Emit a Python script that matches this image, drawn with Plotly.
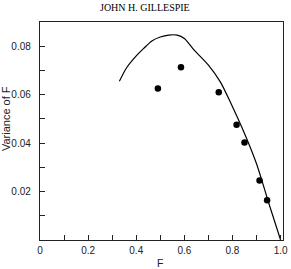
import plotly.graph_objects as go

# Theoretical curve
curve_f = [0.33, 0.36, 0.40, 0.43, 0.465, 0.50, 0.535, 0.57, 0.60, 0.64, 0.70, 0.75, 0.80, 0.85, 0.90, 0.95, 1.0]
curve_var = [0.0655, 0.0711, 0.0760, 0.0790, 0.0822, 0.0838, 0.0846, 0.0846, 0.0832, 0.0785, 0.0722, 0.0652, 0.0550, 0.0440, 0.0315, 0.0155, 0.0]

# Observed points
pts_f = [0.490, 0.586, 0.743, 0.817, 0.850, 0.9125, 0.944]
pts_var = [0.0625, 0.0713, 0.0610, 0.0476, 0.0403, 0.0246, 0.0164]

x_tickvals = [0, 0.2, 0.4, 0.6, 0.8, 1.0]
x_ticktext = ["0", "0.2", "0.4", "0.6", "0.8", "1.0"]
y_tickvals = [0.02, 0.04, 0.06, 0.08]
y_ticktext = ["0.02", "0.04", "0.06", "0.08"]

fig = go.Figure()
fig.add_trace(go.Scatter(x=curve_f, y=curve_var, mode="lines",
                         line=dict(color="black", width=1.2, shape="spline", smoothing=0.8),
                         hoverinfo="skip", showlegend=False))
fig.add_trace(go.Scatter(x=pts_f, y=pts_var, mode="markers",
                         marker=dict(color="black", size=6.5),
                         showlegend=False))

font_ax = "Liberation Sans, Arial, sans-serif"
fig.update_layout(
    width=291, height=269,
    margin=dict(l=40, r=8, t=22, b=29),
    paper_bgcolor="white", plot_bgcolor="white",
    font=dict(family=font_ax, size=10, color="#222"),
    xaxis=dict(range=[0, 1.01], showgrid=False, zeroline=False,
               showline=True, linecolor="#222", linewidth=1.4, mirror=True,
               tickmode="array", tickvals=x_tickvals, ticktext=x_ticktext,
               ticks="inside", ticklen=5, tickcolor="#222", tickwidth=1,
               minor=dict(dtick=0.1, tick0=0, ticks="inside", ticklen=5, tickcolor="#222", tickwidth=1),
               ticklabelstandoff=1, automargin=False,
               tickfont=dict(size=10)),
    yaxis=dict(range=[0, 0.09], showgrid=False, zeroline=False,
               showline=True, linecolor="#222", linewidth=1.4, mirror=True,
               tickmode="array", tickvals=y_tickvals, ticktext=y_ticktext,
               ticks="inside", ticklen=5, tickcolor="#222", tickwidth=1,
               minor=dict(dtick=0.01, tick0=0, ticks="inside", ticklen=5, tickcolor="#222", tickwidth=1),
               ticklabelstandoff=6, automargin=False,
               tickfont=dict(size=10),
               title=dict(text="&nbsp;" * 8 + "Variance of F",
                          font=dict(family=font_ax, size=11, color="#222"), standoff=2)),
    annotations=[
        dict(text="JOHN H. GILLESPIE", xref="paper", yref="paper", x=0.433, y=1.0, yshift=15,
             xanchor="center", yanchor="middle",
             showarrow=False, font=dict(family="Liberation Serif, serif", size=10, color="black")),
        dict(text="F", xref="x", yref="paper", x=0.5, y=0, yshift=-23,
             xanchor="center", yanchor="middle",
             showarrow=False, font=dict(family=font_ax, size=10.5, color="#222")),
    ],
)

fig.write_html("out.html")
